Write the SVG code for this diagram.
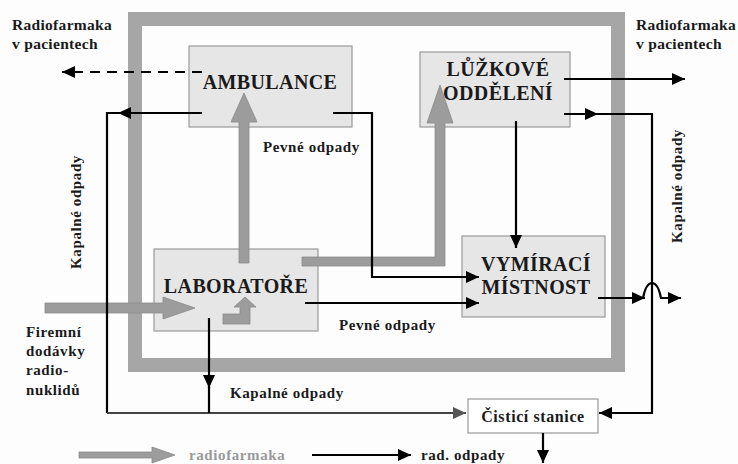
<svg xmlns="http://www.w3.org/2000/svg" width="738" height="464" viewBox="0 0 738 464">
<style>
text{font-family:"Liberation Serif","Times New Roman",serif;font-weight:bold;fill:#1a1a1a}
.big{font-size:20px;letter-spacing:0.4px}
.lbl{font-size:15px;letter-spacing:0.6px}
.top{font-size:15.5px;letter-spacing:0.3px}
.box{fill:#e6e6e6;stroke:#9a9a9a;stroke-width:1.2}
.ln{fill:none;stroke:#000;stroke-width:2.2}
.gr{fill:#9c9c9c;stroke:#8a8a8a;stroke-width:0.8}
</style>
<defs>
<marker id="ah" markerUnits="userSpaceOnUse" markerWidth="14" markerHeight="12" refX="13" refY="6" orient="auto"><path d="M0,0 L13,6 L0,12 z" fill="#000"/></marker>
<marker id="ahg" markerUnits="userSpaceOnUse" markerWidth="14" markerHeight="12" refX="13" refY="6" orient="auto"><path d="M0,0 L13,6 L0,12 z" fill="#555"/></marker>
</defs>
<rect width="738" height="464" fill="#fdfdfd"/>
<rect id="frame" x="135" y="19" width="483" height="346" fill="none" stroke="#a6a6a6" stroke-width="14"/>

<g id="ambulance"><rect class="box" x="189" y="46" width="163" height="81"/><text class="big" x="270" y="89" text-anchor="middle">AMBULANCE</text></g>
<g id="luzkove"><rect class="box" x="420" y="52" width="150" height="75"/><text class="big" x="498" y="76" text-anchor="middle">LŮŽKOVÉ</text><text class="big" x="498" y="100" text-anchor="middle">ODDĚLENÍ</text></g>
<g id="laboratore"><rect class="box" x="154" y="249" width="164" height="82"/><text class="big" x="236" y="293" text-anchor="middle">LABORATOŘE</text></g>
<g id="vymiraci"><rect class="box" x="462" y="236" width="143" height="81"/><text class="big" x="536" y="271" text-anchor="middle">VYMÍRACÍ</text><text class="big" x="536" y="294" text-anchor="middle">MÍSTNOST</text></g>
<g id="cistici"><rect x="468" y="399" width="130" height="34" fill="#fff" stroke="#9a9a9a" stroke-width="1.2"/><text class="lbl" x="533" y="422" text-anchor="middle" style="font-size:16px">Čisticí stanice</text></g>

<g id="radiofarmaka-arrows">
<polygon class="gr" points="239,263 239,122 231,122 244,93 257,122 249,122 249,263"/>
<polygon class="gr" points="302,257 435,257 435,123 427,123 440,85 453,123 445,123 445,266 302,266"/>
<polygon class="gr" points="45,303 163,303 163,297 195,308 163,319 163,313 45,313"/>
<polygon class="gr" points="223,314 240,314 240,307 234,307 245,297 256,307 250,307 250,324 223,324"/>
<polygon class="gr" points="79,452 152,452 152,447 175,455 152,463 152,458 79,458"/>
</g>

<g id="connectors">
<path class="ln" d="M202,72 H62" stroke-dasharray="10,7" marker-end="url(#ah)"/>
<path class="ln" d="M202,113 H118" marker-end="url(#ah)"/>
<path class="ln" d="M118,113 H107 V413" />
<path d="M107,413 H466" fill="none" stroke="#444" stroke-width="2.2" marker-end="url(#ahg)"/>
<path class="ln" d="M209,318 V388" marker-end="url(#ah)"/>
<path class="ln" d="M209,386 V413"/>
<path class="ln" d="M333,113 H372 V277 H479" marker-end="url(#ah)"/>
<path class="ln" d="M305,303 H479" marker-end="url(#ah)"/>
<path class="ln" d="M516,121 V248" marker-end="url(#ah)"/>
<path class="ln" d="M564,79 H685" marker-end="url(#ah)"/>
<path class="ln" d="M564,114 H598" marker-end="url(#ah)"/>
<path class="ln" d="M596,114 H652 V413 H599" marker-end="url(#ah)"/>
<path class="ln" d="M598,298 H645" marker-end="url(#ah)"/>
<path class="ln" d="M643,298 C647,278 657,278 661,298 H681" marker-end="url(#ah)"/>
<path class="ln" d="M543,433 V463" marker-end="url(#ah)"/>
<path class="ln" d="M312,455 H411" marker-end="url(#ah)"/>
</g>

<g id="labels">
<text class="top" x="12" y="30">Radiofarmaka</text>
<text class="top" x="12" y="49">v pacientech</text>
<text class="top" x="636" y="30">Radiofarmaka</text>
<text class="top" x="636" y="49">v pacientech</text>
<text class="lbl" x="263" y="152">Pevné odpady</text>
<text class="lbl" x="339" y="330">Pevné odpady</text>
<text class="lbl" x="230" y="398">Kapalné odpady</text>
<text class="lbl" transform="translate(81,212) rotate(-90)" text-anchor="middle">Kapalné odpady</text>
<text class="lbl" transform="translate(682,186) rotate(-90)" text-anchor="middle">Kapalné odpady</text>
<text class="lbl" x="26" y="337">Firemní</text>
<text class="lbl" x="26" y="356">dodávky</text>
<text class="lbl" x="26" y="375">radio-</text>
<text class="lbl" x="26" y="395">nuklidů</text>
<text class="lbl" x="189" y="460" style="fill:#999">radiofarmaka</text>
<text class="lbl" x="421" y="460">rad. odpady</text>
</g>
</svg>
